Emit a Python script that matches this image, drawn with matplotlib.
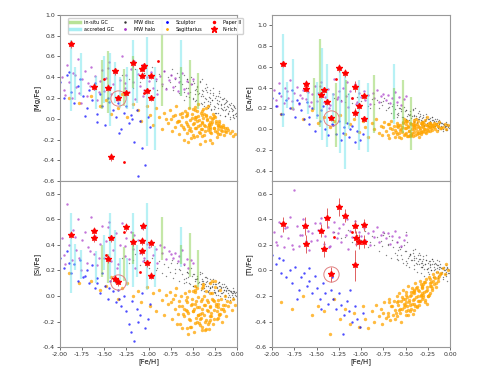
import matplotlib
matplotlib.use('Agg')
import matplotlib.pyplot as plt
from matplotlib.lines import Line2D

# ---------------- data ----------------
# MW disc
disc_feh = [-1.30, -1.22, -1.15, -1.10, -1.05, -1.00, -0.96, -0.92, -0.88, -0.85,
            -0.82, -0.80, -0.78, -0.76, -0.74, -0.72, -0.70, -0.68, -0.66, -0.64,
            -0.62, -0.60, -0.58, -0.56, -0.55, -0.53, -0.52, -0.50, -0.49, -0.47,
            -0.46, -0.45, -0.43, -0.42, -0.41, -0.40, -0.38, -0.37, -0.36, -0.35,
            -0.34, -0.33, -0.32, -0.31, -0.30, -0.29, -0.28, -0.27, -0.26, -0.25,
            -0.24, -0.23, -0.22, -0.21, -0.20, -0.19, -0.18, -0.17, -0.16, -0.15,
            -0.14, -0.13, -0.12, -0.11, -0.10, -0.09, -0.08, -0.07, -0.06, -0.05,
            -0.04, -0.03, -0.02, -0.01, -0.70, -0.60, -0.50, -0.40, -0.30, -0.20,
            -0.65, -0.55, -0.45, -0.35, -0.25, -0.15, -0.10, -0.05, -0.90, -0.75,
            -0.58, -0.48, -0.39, -0.33, -0.27, -0.18, -0.12, -0.08, -0.03, -1.18,
            -0.60, -0.57, -0.54, -0.51, -0.48, -0.46, -0.44, -0.42, -0.40, -0.38,
            -0.36, -0.34, -0.32, -0.30, -0.28, -0.26, -0.24, -0.22, -0.20, -0.18,
            -0.16, -0.14, -0.12, -0.10, -0.08, -0.06, -0.04, -0.02, -0.01, -0.03,
            -0.05, -0.07, -0.09, -0.11, -0.13, -0.15, -0.17, -0.19, -0.21, -0.23,
            -0.25, -0.27, -0.29, -0.31, -0.33, -0.35, -0.37, -0.41, -0.45, -0.50]
disc_mg = [0.42, 0.38, 0.48, 0.35, 0.44, 0.40, 0.50, 0.36, 0.43, 0.32,
           0.46, 0.30, 0.40, 0.35, 0.48, 0.28, 0.38, 0.44, 0.25, 0.36,
           0.33, 0.42, 0.22, 0.38, 0.30, 0.26, 0.40, 0.20, 0.34, 0.28,
           0.18, 0.32, 0.25, 0.36, 0.15, 0.28, 0.22, 0.12, 0.30, 0.19,
           0.26, 0.10, 0.21, 0.16, 0.28, 0.08, 0.18, 0.23, 0.12, 0.20,
           0.06, 0.15, 0.22, 0.10, 0.17, 0.04, 0.13, 0.19, 0.08, 0.11,
           0.15, 0.03, 0.09, 0.12, 0.06, 0.14, 0.02, 0.10, 0.07, 0.04,
           0.08, 0.01, 0.05, 0.03, 0.32, 0.18, 0.36, 0.24, 0.14, 0.25,
           0.40, 0.35, 0.27, 0.33, 0.06, 0.20, 0.11, 0.13, 0.28, 0.42,
           0.30, 0.24, 0.38, 0.17, 0.30, 0.14, 0.18, 0.00, 0.11, 0.30,
           0.26, 0.38, 0.21, 0.33, 0.17, 0.29, 0.24, 0.35, 0.14, 0.27,
           0.20, 0.31, 0.12, 0.25, 0.18, 0.09, 0.22, 0.14, 0.27, 0.10,
           0.19, 0.08, 0.16, 0.05, 0.13, 0.09, 0.04, 0.10, 0.06, 0.12,
           0.02, 0.15, 0.07, 0.17, 0.03, 0.14, 0.09, 0.21, 0.06, 0.18,
           0.11, 0.25, 0.09, 0.20, 0.13, 0.28, 0.16, 0.22, 0.31, 0.19]
disc_ca = [0.30, 0.28, 0.34, 0.25, 0.31, 0.27, 0.33, 0.22, 0.29, 0.24,
           0.28, 0.20, 0.26, 0.23, 0.30, 0.18, 0.25, 0.21, 0.16, 0.24,
           0.19, 0.23, 0.14, 0.20, 0.17, 0.12, 0.21, 0.10, 0.18, 0.15,
           0.09, 0.17, 0.13, 0.19, 0.08, 0.14, 0.11, 0.06, 0.16, 0.10,
           0.13, 0.05, 0.11, 0.08, 0.14, 0.04, 0.09, 0.12, 0.06, 0.10,
           0.03, 0.08, 0.11, 0.05, 0.09, 0.02, 0.07, 0.10, 0.04, 0.06,
           0.08, 0.01, 0.05, 0.07, 0.03, 0.06, 0.00, 0.04, 0.02, 0.05,
           0.03, -0.01, 0.02, 0.04, 0.20, 0.12, 0.18, 0.13, 0.07, 0.12,
           0.22, 0.19, 0.14, 0.17, 0.03, 0.10, 0.06, 0.07, 0.20, 0.27,
           0.16, 0.13, 0.20, 0.09, 0.15, 0.08, 0.09, -0.02, 0.05, 0.26,
           0.15, 0.20, 0.12, 0.17, 0.09, 0.14, 0.11, 0.18, 0.07, 0.13,
           0.10, 0.15, 0.06, 0.12, 0.08, 0.04, 0.10, 0.06, 0.12, 0.03,
           0.08, 0.02, 0.06, 0.00, 0.05, 0.03, -0.01, 0.03, 0.01, 0.04,
           0.00, 0.05, 0.02, 0.07, -0.01, 0.06, 0.03, 0.09, 0.02, 0.07,
           0.04, 0.10, 0.03, 0.08, 0.05, 0.12, 0.07, 0.10, 0.15, 0.09]
disc_si = [0.30, 0.26, 0.33, 0.24, 0.28, 0.22, 0.30, 0.20, 0.27, 0.18,
           0.25, 0.16, 0.23, 0.19, 0.28, 0.14, 0.21, 0.26, 0.12, 0.20,
           0.17, 0.24, 0.11, 0.19, 0.15, 0.09, 0.22, 0.08, 0.17, 0.13,
           0.07, 0.16, 0.11, 0.19, 0.05, 0.13, 0.10, 0.04, 0.15, 0.08,
           0.12, 0.03, 0.10, 0.06, 0.13, 0.02, 0.08, 0.11, 0.05, 0.09,
           0.01, 0.07, 0.10, 0.04, 0.08, 0.00, 0.06, 0.09, 0.03, 0.05,
           0.07, 0.00, 0.04, 0.06, 0.02, 0.05, -0.01, 0.03, 0.01, 0.04,
           0.02, -0.02, 0.01, 0.03, 0.18, 0.10, 0.17, 0.12, 0.06, 0.11,
           0.21, 0.18, 0.13, 0.15, 0.02, 0.09, 0.05, 0.06, 0.22, 0.26,
           0.14, 0.12, 0.18, 0.08, 0.13, 0.07, 0.08, -0.03, 0.04, 0.28,
           0.13, 0.19, 0.10, 0.16, 0.08, 0.13, 0.10, 0.17, 0.06, 0.12,
           0.09, 0.14, 0.05, 0.11, 0.07, 0.03, 0.09, 0.05, 0.11, 0.02,
           0.07, 0.01, 0.05, -0.01, 0.04, 0.02, -0.02, 0.02, 0.00, 0.03,
           -0.01, 0.04, 0.01, 0.06, -0.02, 0.05, 0.02, 0.08, 0.01, 0.06,
           0.03, 0.09, 0.02, 0.07, 0.04, 0.11, 0.06, 0.09, 0.14, 0.08]
disc_ti = [0.30, 0.25, 0.32, 0.22, 0.28, 0.24, 0.31, 0.18, 0.27, 0.20,
           0.26, 0.15, 0.23, 0.19, 0.29, 0.12, 0.21, 0.27, 0.10, 0.18,
           0.14, 0.22, 0.08, 0.17, 0.12, 0.06, 0.20, 0.04, 0.15, 0.10,
           0.03, 0.13, 0.08, 0.16, 0.01, 0.10, 0.06, -0.01, 0.12, 0.05,
           0.09, -0.02, 0.07, 0.03, 0.11, -0.04, 0.05, 0.08, 0.01, 0.06,
           -0.03, 0.04, 0.07, 0.00, 0.05, -0.05, 0.03, 0.06, -0.01, 0.02,
           0.04, -0.06, 0.01, 0.03, -0.02, 0.02, -0.07, 0.00, -0.03, 0.01,
           -0.01, -0.08, -0.02, 0.00, 0.20, 0.09, 0.30, 0.11, 0.04, 0.09,
           0.24, 0.18, 0.13, 0.14, -0.01, 0.08, 0.02, 0.04, 0.22, 0.28,
           0.16, 0.22, 0.17, 0.06, 0.12, 0.05, 0.07, -0.05, 0.03, 0.26,
           0.12, 0.18, 0.09, 0.15, 0.06, 0.11, 0.08, 0.14, 0.04, 0.10,
           0.07, 0.12, 0.03, 0.09, 0.05, 0.01, 0.07, 0.03, 0.09, 0.00,
           0.05, -0.01, 0.03, -0.03, 0.02, 0.00, -0.04, 0.01, -0.02, 0.02,
           -0.03, 0.03, -0.01, 0.05, -0.04, 0.04, 0.01, 0.07, 0.00, 0.05,
           0.02, 0.08, 0.01, 0.06, 0.03, 0.09, 0.05, 0.08, 0.12, 0.07]

# MW halo
halo_feh = [-1.98, -1.95, -1.92, -1.90, -1.87, -1.85, -1.82, -1.80, -1.78, -1.75,
            -1.72, -1.70, -1.68, -1.65, -1.62, -1.60, -1.58, -1.55, -1.52, -1.50,
            -1.48, -1.45, -1.42, -1.40, -1.37, -1.35, -1.32, -1.30, -1.27, -1.25,
            -1.22, -1.20, -1.17, -1.15, -1.12, -1.10, -1.07, -1.05, -1.02, -1.00,
            -0.97, -0.95, -0.92, -0.90, -0.87, -0.85, -0.82, -0.80, -0.77, -0.75,
            -0.72, -0.70, -0.67, -0.65, -0.62, -0.60, -0.57, -0.55, -0.52, -0.50,
            -1.94, -1.83, -1.76, -1.66, -1.56, -1.46, -1.36, -1.26, -1.16, -1.06]
halo_mg = [0.40, 0.28, 0.52, 0.35, 0.20, 0.44, 0.31, 0.58, 0.25, 0.38,
           0.46, 0.22, 0.34, 0.50, 0.29, 0.41, 0.18, 0.36, 0.47, 0.27,
           0.39, 0.55, 0.24, 0.33, 0.45, 0.21, 0.37, 0.60, 0.30, 0.42,
           0.26, 0.48, 0.35, 0.19, 0.43, 0.32, 0.52, 0.28, 0.40, 0.36,
           0.45, 0.30, 0.38, 0.24, 0.41, 0.33, 0.46, 0.29, 0.37, 0.42,
           0.31, 0.39, 0.27, 0.35, 0.44, 0.29, 0.36, 0.25, 0.33, 0.38,
           0.23, 0.42, 0.15, 0.32, 0.26, 0.49, 0.18, 0.34, 0.56, 0.22]
halo_ca = [0.38, 0.28, 0.44, 0.32, 0.25, 0.40, 0.30, 0.47, 0.27, 0.35,
           0.41, 0.24, 0.33, 0.38, 0.29, 0.36, 0.22, 0.34, 0.42, 0.27,
           0.35, 0.45, 0.26, 0.31, 0.39, 0.23, 0.34, 0.48, 0.29, 0.37,
           0.27, 0.40, 0.32, 0.21, 0.37, 0.30, 0.43, 0.26, 0.35, 0.31,
           0.37, 0.28, 0.33, 0.24, 0.35, 0.30, 0.38, 0.26, 0.32, 0.34,
           0.28, 0.33, 0.25, 0.30, 0.36, 0.26, 0.31, 0.23, 0.29, 0.32,
           0.22, 0.37, 0.19, 0.30, 0.26, 0.42, 0.20, 0.31, 0.45, 0.24]
halo_si = [0.45, 0.32, 0.72, 0.40, 0.28, 0.52, 0.36, 0.60, 0.30, 0.44,
           0.50, 0.26, 0.38, 0.62, 0.33, 0.47, 0.24, 0.41, 0.55, 0.30,
           0.43, 0.58, 0.27, 0.36, 0.49, 0.25, 0.40, 0.57, 0.31, 0.45,
           0.29, 0.50, 0.37, 0.22, 0.44, 0.34, 0.53, 0.30, 0.41, 0.38,
           0.42, 0.32, 0.37, 0.26, 0.40, 0.34, 0.38, 0.29, 0.35, 0.33,
           0.30, 0.34, 0.27, 0.31, 0.36, 0.25, 0.29, 0.22, 0.28, 0.26,
           0.25, 0.46, 0.20, 0.35, 0.30, 0.54, 0.22, 0.39, 0.48, 0.27]
halo_ti = [0.30, 0.22, 0.38, 0.27, 0.18, 0.33, 0.25, 0.42, 0.20, 0.63,
           0.35, 0.19, 0.28, 0.40, 0.23, 0.31, 0.16, 0.29, 0.37, 0.24,
           0.32, 0.41, 0.21, 0.27, 0.34, 0.19, 0.30, 0.38, 0.25, 0.33,
           0.22, 0.36, 0.28, 0.17, 0.31, 0.26, 0.39, 0.23, 0.30, 0.27,
           0.33, 0.24, 0.29, 0.20, 0.31, 0.26, 0.34, 0.22, 0.28, 0.30,
           0.25, 0.29, 0.21, 0.27, 0.31, 0.22, 0.26, 0.19, 0.24, 0.28,
           0.20, 0.34, 0.17, 0.28, 0.23, 0.37, 0.18, 0.29, 0.40, 0.21]

# Sculptor
scl_feh = [-2.00, -1.96, -1.92, -1.88, -1.84, -1.80, -1.77, -1.74, -1.70, -1.67,
           -1.64, -1.61, -1.58, -1.55, -1.52, -1.49, -1.46, -1.43, -1.40, -1.37,
           -1.34, -1.31, -1.28, -1.25, -1.22, -1.19, -1.16, -1.13, -1.10, -1.07,
           -1.04, -1.01, -0.98, -1.90, -1.72, -1.58, -1.45, -1.33, -1.20, -1.12]
scl_mg = [0.35, 0.20, 0.42, 0.26, 0.15, 0.32, 0.38, 0.22, 0.10, 0.28,
          0.18, 0.34, 0.05, 0.24, 0.12, -0.06, 0.20, 0.30, 0.08, 0.02,
          0.15, -0.10, 0.06, 0.12, -0.04, 0.00, -0.22, 0.08, -0.02, -0.28,
          -0.45, 0.02, -0.08, 0.45, 0.03, -0.03, 0.16, -0.14, 0.04, -0.55]
scl_ca = [0.30, 0.22, 0.35, 0.15, 0.28, 0.20, 0.38, 0.12, 0.25, 0.18,
          0.10, 0.26, 0.05, 0.20, -0.02, 0.14, 0.08, 0.22, 0.00, -0.06,
          0.12, 0.04, -0.05, 0.08, -0.10, 0.02, 0.06, -0.08, 0.03, -0.12,
          -0.02, -0.10, -0.05, 0.15, 0.28, 0.12, 0.18, 0.05, -0.04, 0.00]
scl_si = [0.30, 0.22, 0.35, 0.18, 0.25, 0.12, 0.28, 0.15, 0.20, 0.10,
          0.24, 0.06, 0.14, 0.02, 0.18, 0.08, -0.02, 0.12, 0.04, -0.05,
          0.05, -0.08, 0.00, -0.12, -0.22, -0.04, -0.35, -0.10, -0.15, 0.02,
          -0.25, -0.18, -0.06, 0.26, 0.16, 0.10, 0.06, -0.02, -0.28, -0.20]
scl_ti = [0.12, 0.05, 0.10, 0.08, -0.05, 0.00, -0.10, 0.03, -0.15, -0.05,
          -0.02, -0.12, -0.08, -0.18, -0.04, -0.14, -0.22, -0.10, -0.18, -0.26,
          -0.15, -0.22, -0.30, -0.18, -0.27, -0.35, -0.24, -0.32, -0.40, -0.28,
          -0.38, -0.44, -0.33, -0.02, -0.22, 0.02, -0.30, -0.05, -0.50, -0.15]

# Sagittarius
sgr_feh = [-1.90, -1.78, -1.65, -1.55, -1.48, -1.42, -1.35, -1.30, -1.24, -1.18,
           -1.12, -1.08, -1.02, -0.98, -0.95, -0.92, -0.88, -0.85, -0.83, -0.80,
           -0.78, -0.76, -0.74, -0.72, -0.70, -0.69, -0.67, -0.66, -0.64, -0.63,
           -0.62, -0.60, -0.59, -0.58, -0.57, -0.56, -0.55, -0.54, -0.53, -0.52,
           -0.51, -0.50, -0.49, -0.48, -0.47, -0.46, -0.45, -0.44, -0.43, -0.42,
           -0.41, -0.40, -0.39, -0.38, -0.37, -0.36, -0.35, -0.34, -0.33, -0.32,
           -0.31, -0.30, -0.29, -0.28, -0.27, -0.26, -0.25, -0.24, -0.23, -0.22,
           -0.21, -0.20, -0.19, -0.18, -0.17, -0.16, -0.15, -0.14, -0.12, -0.10,
           -0.08, -0.06, -0.04, -0.02, -0.60, -0.50, -0.45, -0.40, -0.35, -0.30,
           -0.55, -0.48, -0.42, -0.38, -0.33, -0.28, -0.52, -0.44, -0.36, -0.26,
           -0.65, -0.61, -0.58, -0.56, -0.54, -0.51, -0.49, -0.47, -0.46, -0.44,
           -0.43, -0.41, -0.40, -0.39, -0.37, -0.36, -0.34, -0.33, -0.31, -0.30,
           -0.29, -0.27, -0.26, -0.24, -0.23, -0.21, -0.20, -0.18, -0.16, -0.14,
           -0.70, -0.68, -0.57, -0.53, -0.47, -0.42, -0.37, -0.32, -0.28, -0.22,
           -0.75, -0.62, -0.50, -0.45, -0.40, -0.35, -0.31, -0.25, -0.19, -0.11]
sgr_mg = [0.20, 0.15, 0.22, 0.12, 0.18, 0.05, 0.10, 0.24, 0.02, 0.14,
          0.08, -0.02, 0.12, 0.04, -0.06, 0.10, 0.02, -0.10, 0.06, 0.00,
          -0.04, 0.08, -0.12, 0.03, -0.08, 0.12, -0.02, -0.15, 0.05, -0.06,
          0.02, -0.10, 0.07, -0.03, -0.14, 0.04, -0.07, 0.10, -0.01, -0.12,
          0.05, -0.05, -0.18, 0.00, 0.08, -0.09, -0.02, 0.03, -0.13, -0.06,
          0.06, -0.04, -0.10, 0.01, -0.16, -0.07, 0.04, -0.01, -0.11, -0.05,
          0.02, -0.08, -0.14, -0.03, 0.05, -0.09, -0.12, -0.02, -0.18, -0.06,
          -0.10, -0.04, -0.15, -0.08, -0.12, -0.06, -0.16, -0.09, -0.13, -0.11,
          -0.14, -0.12, -0.17, -0.15, -0.20, 0.09, -0.17, 0.07, 0.10, -0.20,
          -0.22, 0.11, -0.24, 0.09, 0.12, -0.23, -0.19, 0.14, -0.21, 0.03,
          -0.02, -0.08, 0.03, -0.05, -0.11, 0.01, -0.04, -0.09, 0.02, -0.07,
          -0.01, -0.10, -0.03, 0.04, -0.06, -0.12, 0.00, -0.08, -0.03, -0.10,
          -0.05, 0.01, -0.09, -0.04, -0.13, -0.07, -0.02, -0.11, -0.08, -0.12,
          0.04, -0.03, 0.06, -0.09, 0.02, -0.14, 0.05, -0.06, 0.00, -0.15,
          0.00, 0.06, -0.16, 0.07, -0.17, 0.03, -0.13, 0.02, -0.07, -0.09]
sgr_ca = [0.15, 0.20, 0.10, 0.18, 0.06, 0.12, 0.02, 0.08, 0.14, -0.05,
          0.05, 0.10, -0.03, 0.08, 0.02, -0.08, 0.06, 0.00, 0.10, -0.04,
          0.03, -0.06, 0.07, -0.02, 0.05, -0.09, 0.01, 0.08, -0.04, 0.03,
          -0.01, 0.06, -0.05, 0.02, -0.08, 0.04, 0.00, -0.03, 0.07, -0.06,
          0.01, -0.04, 0.05, -0.07, 0.02, -0.02, 0.06, -0.05, 0.00, 0.03,
          -0.03, 0.04, -0.06, 0.01, 0.05, -0.04, 0.02, -0.01, 0.06, -0.03,
          0.03, -0.02, 0.05, 0.00, -0.04, 0.04, 0.01, 0.06, -0.02, 0.02,
          0.04, -0.01, 0.03, 0.06, 0.00, 0.05, -0.02, 0.03, 0.07, 0.01,
          0.02, 0.05, 0.00, 0.04, 0.03, 0.08, -0.07, 0.09, -0.08, 0.07,
          -0.09, 0.08, -0.07, 0.10, -0.05, 0.09, 0.10, -0.06, 0.08, 0.12,
          0.00, -0.03, 0.04, -0.01, 0.02, -0.05, 0.01, 0.03, -0.02, 0.05,
          -0.04, 0.02, 0.00, 0.04, -0.02, 0.03, 0.01, -0.03, 0.05, 0.02,
          0.00, 0.04, -0.01, 0.03, 0.06, 0.01, 0.04, 0.02, 0.05, 0.03,
          -0.06, 0.05, -0.04, 0.06, -0.07, 0.05, -0.05, 0.07, -0.03, 0.06,
          0.02, -0.08, 0.08, -0.06, 0.07, -0.04, 0.06, -0.02, 0.04, 0.01]
sgr_si = [0.18, 0.10, 0.12, 0.05, 0.08, 0.15, -0.02, 0.06, 0.10, 0.00,
          0.04, -0.05, 0.07, -0.08, 0.02, -0.12, 0.05, -0.03, -0.15, 0.01,
          -0.06, 0.03, -0.18, -0.02, -0.10, 0.06, -0.14, -0.04, -0.22, 0.00,
          -0.08, -0.16, 0.02, -0.11, -0.25, -0.05, -0.13, 0.04, -0.19, -0.07,
          -0.02, -0.12, -0.28, -0.06, 0.05, -0.17, -0.09, -0.01, -0.21, -0.14,
          -0.04, -0.10, -0.24, 0.08, -0.15, -0.07, -0.19, -0.03, -0.12, -0.26,
          0.10, -0.08, -0.16, -0.02, -0.22, -0.11, 0.12, -0.06, -0.18, -0.09,
          -0.03, -0.14, 0.05, -0.10, -0.20, -0.07, -0.12, 0.00, -0.16, -0.08,
          -0.05, -0.11, -0.02, -0.07, -0.10, 0.04, -0.20, 0.06, -0.26, 0.02,
          -0.30, 0.08, -0.18, 0.09, -0.22, 0.12, -0.24, -0.15, -0.27, -0.04,
          -0.08, -0.14, -0.03, -0.12, -0.18, -0.06, -0.10, -0.21, -0.04, -0.15,
          -0.09, -0.17, -0.02, -0.13, -0.07, -0.20, -0.11, -0.05, -0.16, -0.09,
          -0.13, -0.03, -0.18, -0.08, -0.12, -0.06, -0.15, -0.02, -0.10, -0.07,
          0.01, -0.22, -0.01, -0.24, 0.03, -0.23, 0.00, -0.20, 0.02, -0.17,
          -0.05, -0.25, -0.12, 0.06, -0.27, 0.04, -0.19, 0.07, -0.14, -0.04]
sgr_ti = [-0.25, -0.30, -0.20, -0.35, -0.28, -0.32, -0.50, -0.22, -0.38, -0.30,
          -0.42, -0.33, -0.44, -0.28, -0.38, -0.45, -0.32, -0.40, -0.27, -0.36,
          -0.30, -0.42, -0.25, -0.37, -0.33, -0.22, -0.39, -0.28, -0.35, -0.24,
          -0.31, -0.20, -0.36, -0.27, -0.18, -0.33, -0.24, -0.30, -0.15, -0.26,
          -0.22, -0.32, -0.17, -0.28, -0.12, -0.25, -0.20, -0.30, -0.14, -0.23,
          -0.18, -0.26, -0.10, -0.21, -0.28, -0.15, -0.24, -0.08, -0.19, -0.13,
          -0.22, -0.11, -0.17, -0.25, -0.07, -0.15, -0.20, -0.05, -0.12, -0.18,
          -0.09, -0.14, -0.03, -0.11, -0.06, -0.13, -0.01, -0.08, -0.04, -0.02,
          0.02, -0.03, 0.05, 0.00, -0.25, -0.35, -0.27, -0.31, -0.16, -0.19,
          -0.40, -0.21, -0.34, -0.14, -0.20, -0.09, -0.29, -0.19, -0.24, -0.26,
          -0.28, -0.33, -0.24, -0.30, -0.21, -0.27, -0.19, -0.31, -0.23, -0.17,
          -0.26, -0.15, -0.22, -0.28, -0.13, -0.20, -0.24, -0.11, -0.18, -0.21,
          -0.09, -0.16, -0.13, -0.19, -0.07, -0.12, -0.15, -0.05, -0.10, -0.06,
          -0.36, -0.25, -0.31, -0.22, -0.35, -0.17, -0.29, -0.14, -0.23, -0.10,
          -0.33, -0.38, -0.25, -0.32, -0.16, -0.27, -0.12, -0.20, -0.08, -0.03]

# globular clusters: [Fe/H], origin, spread (low, high) per element
gc_feh = [-1.88, -1.83, -1.76, -1.59, -1.53, -1.50, -1.46, -1.44, -1.38, -1.32, -1.28,
          -1.24, -1.18, -1.17, -1.13, -1.02, -0.925, -0.85, -0.63, -0.63, -0.53, -0.44]
gc_insitu = [False, False, False, False, True, False, True, False, False, False, True,
             False, False, True, False, False, False, True, False, True, True, True]
gc_mg_lo = [0.07, 0.18, 0.22, 0.09, 0.09, 0.15, 0.06, -0.07, 0.15, 0.10, 0.12,
            0.09, 0.09, 0.30, 0.15, -0.26, -0.30, 0.12, 0.22, 0.22, 0.09, 0.09]
gc_mg_hi = [0.76, 0.50, 0.63, 0.41, 0.57, 0.60, 0.65, 0.63, 0.55, 0.40, 0.48,
            0.50, 0.76, 0.60, 0.48, 0.79, 0.50, 0.95, 0.76, 0.50, 0.57, 0.44]
gc_ca_lo = [0.02, 0.20, 0.18, 0.15, 0.18, 0.10, 0.02, -0.10, -0.17, 0.05, -0.17,
            -0.23, -0.38, 0.05, 0.00, -0.20, -0.22, -0.04, 0.05, 0.10, -0.04, -0.20]
gc_ca_hi = [0.92, 0.45, 0.68, 0.40, 0.49, 0.45, 0.87, 0.78, 0.63, 0.35, 0.44,
            0.60, 0.54, 0.47, 0.35, 0.47, 0.44, 0.52, 0.63, 0.40, 0.47, 0.31]
gc_si_lo = [0.02, 0.20, 0.13, 0.10, 0.15, 0.20, 0.10, 0.13, 0.10, 0.10, 0.12,
            0.08, 0.07, 0.25, 0.15, 0.05, 0.07, 0.28, 0.23, 0.25, 0.15, 0.07]
gc_si_hi = [0.65, 0.41, 0.36, 0.35, 0.40, 0.48, 0.33, 0.65, 0.52, 0.30, 0.38,
            0.30, 0.65, 0.50, 0.40, 0.73, 0.39, 0.62, 0.54, 0.40, 0.49, 0.36]

# N-rich stars (per panel)
nr_mg_feh = [-1.88, -1.62, -1.455, -1.38, -1.34, -1.25, -1.18, -1.07, -1.055, -1.07, -1.02, -0.97, -0.97, -1.425]
nr_mg = [0.72, 0.31, 0.30, 0.456, 0.197, 0.245, 0.54, 0.48, 0.51, 0.41, 0.27, 0.41, 0.20, -0.37]
nr_mg_err = [0.04, 0.03, 0.03, 0.03, 0.03, 0.03, 0.04, 0.03, 0.03, 0.03, 0.03, 0.03, 0.03, 0.04]
nr_ca_feh = [-1.88, -1.62, -1.62, -1.45, -1.42, -1.38, -1.335, -1.25, -1.175, -1.065, -1.02, -1.065, -0.97, -0.97]
nr_ca = [0.63, 0.43, 0.385, 0.33, 0.375, 0.26, 0.11, 0.59, 0.54, 0.41, 0.22, 0.16, 0.32, 0.10]
nr_ca_err = [0.03, 0.04, 0.03, 0.03, 0.03, 0.03, 0.03, 0.04, 0.04, 0.05, 0.03, 0.04, 0.03, 0.03]
nr_si_feh = [-1.88, -1.62, -1.62, -1.455, -1.42, -1.38, -1.34, -1.25, -1.18, -1.07, -1.06, -1.07, -1.02, -0.97, -0.975]
nr_si = [0.48, 0.51, 0.45, 0.29, 0.45, 0.135, 0.11, 0.54, 0.42, 0.43, 0.55, 0.35, 0.255, 0.415, 0.16]
nr_si_err = [0.03, 0.03, 0.03, 0.03, 0.03, 0.03, 0.03, 0.03, 0.03, 0.03, 0.03, 0.03, 0.03, 0.03, 0.03]
nr_ti_feh = [-1.88, -1.625, -1.62, -1.45, -1.42, -1.38, -1.335, -1.25, -1.175, -1.065, -1.06, -1.02, -0.97, -0.97, -1.065]
nr_ti = [0.36, 0.35, 0.21, 0.31, 0.167, 0.41, -0.03, 0.50, 0.43, 0.345, 0.25, 0.225, 0.355, 0.225, 0.04]
nr_ti_err = [0.06, 0.07, 0.07, 0.05, 0.06, 0.08, 0.06, 0.07, 0.05, 0.05, 0.06, 0.06, 0.05, 0.05, 0.12]

# Paper II stars
p2_mg_feh = [-0.89, -1.28, -1.50, -1.05]
p2_mg = [0.56, -0.42, 0.38, 0.25]
p2_ca_feh = [-1.28, -1.10]
p2_ca = [0.48, 0.30]
p2_si_feh = [-1.28, -1.10, -1.48]
p2_si = [0.50, 0.19, 0.32]
p2_ti_feh = [-1.10, -1.30]
p2_ti = [0.30, 0.26]

# circled star per panel
circ_feh = [-1.34, -1.335, -1.34, -1.335]
circ_val = [0.197, 0.11, 0.11, -0.03]

labels = ['[Mg/Fe]', '[Ca/Fe]', '[Si/Fe]', '[Ti/Fe]']
ylims = [(-0.6, 1.0), (-0.5, 1.1), (-0.4, 0.9), (-0.6, 0.7)]
yticks = [[-0.6, -0.4, -0.2, 0.0, 0.2, 0.4, 0.6, 0.8, 1.0],
          [-0.4, -0.2, 0.0, 0.2, 0.4, 0.6, 0.8, 1.0],
          [-0.4, -0.2, 0.0, 0.2, 0.4, 0.6, 0.8],
          [-0.6, -0.4, -0.2, 0.0, 0.2, 0.4, 0.6]]
xticks = [-2.0, -1.75, -1.5, -1.25, -1.0, -0.75, -0.5, -0.25, 0.0]

disc_y = [disc_mg, disc_ca, disc_si, disc_ti]
halo_y = [halo_mg, halo_ca, halo_si, halo_ti]
scl_y = [scl_mg, scl_ca, scl_si, scl_ti]
sgr_y = [sgr_mg, sgr_ca, sgr_si, sgr_ti]
gc_lo = [gc_mg_lo, gc_ca_lo, gc_si_lo, None]
gc_hi = [gc_mg_hi, gc_ca_hi, gc_si_hi, None]
nr_x = [nr_mg_feh, nr_ca_feh, nr_si_feh, nr_ti_feh]
nr_y = [nr_mg, nr_ca, nr_si, nr_ti]
nr_e = [nr_mg_err, nr_ca_err, nr_si_err, nr_ti_err]
p2_x = [p2_mg_feh, p2_ca_feh, p2_si_feh, p2_ti_feh]
p2_y = [p2_mg, p2_ca, p2_si, p2_ti]

C_INSITU = '#8ad050'
C_ACC = '#70e4ec'
C_HALO = '#a838c8'

fig = plt.figure(figsize=(5.0, 3.74), dpi=100)
positions = [[0.12, 0.516, 0.354, 0.444], [0.544, 0.516, 0.356, 0.444],
             [0.12, 0.072, 0.354, 0.444], [0.544, 0.072, 0.356, 0.444]]

for i in range(4):
    ax = fig.add_axes(positions[i])
    ax.scatter(disc_feh, disc_y[i], s=1.0, c='#303030', alpha=0.6, lw=0)
    ax.scatter(sgr_feh, sgr_y[i], s=6, c='orange', alpha=0.75, lw=0)
    ax.scatter(halo_feh, halo_y[i], s=3, c=C_HALO, alpha=0.7, lw=0)
    ax.scatter(scl_feh, scl_y[i], s=3, c='blue', alpha=0.7, lw=0)
    if gc_lo[i] is not None:
        for f, ins, lo, hi in zip(gc_feh, gc_insitu, gc_lo[i], gc_hi[i]):
            ax.vlines(f, lo, hi, colors=C_INSITU if ins else C_ACC,
                      lw=1.6, alpha=0.5)
    ax.scatter(p2_x[i], p2_y[i], s=4, c='red', lw=0, zorder=4)
    ax.errorbar(nr_x[i], nr_y[i], yerr=nr_e[i], fmt='*', color='red', ms=4.2,
                ecolor='#e06060', elinewidth=0.7, capsize=0, zorder=5)
    ax.plot(circ_feh[i], circ_val[i], 'o', ms=11, mfc='none', mec='#e08080',
            mew=0.7, zorder=5)

    ax.set_xlim(-2.0, 0.0)
    ax.set_ylim(*ylims[i])
    ax.set_yticks(yticks[i])
    ax.set_yticklabels(['%.1f' % v for v in yticks[i]])
    ax.set_xticks(xticks)
    if i >= 2:
        ax.set_xticklabels(['%.2f' % v for v in xticks])
        ax.set_xlabel('[Fe/H]', fontsize=5, labelpad=1)
    else:
        ax.set_xticklabels([])
    ax.set_ylabel(labels[i], fontsize=5, labelpad=2)
    ax.tick_params(labelsize=4.5, length=2, width=0.5, pad=1.5, colors='#333333')
    for sp in ax.spines.values():
        sp.set_color('#999999')
        sp.set_linewidth(0.8)

    if i == 0:
        handles = [
            Line2D([], [], color=C_INSITU, lw=2.5, alpha=0.6),
            Line2D([], [], color=C_ACC, lw=2.5, alpha=0.6),
            Line2D([], [], ls='', marker='.', ms=1.5, color='#303030'),
            Line2D([], [], ls='', marker='.', ms=2, color=C_HALO),
            Line2D([], [], ls='', marker='.', ms=2, color='blue'),
            Line2D([], [], ls='', marker='.', ms=2, color='orange'),
            Line2D([], [], ls='', marker='.', ms=3, color='red'),
            Line2D([], [], ls='', marker='*', ms=5, color='red'),
        ]
        names = ['in-situ GC', 'accreted GC', 'MW disc', 'MW halo',
                 'Sculptor', 'Sagittarius', 'Paper II', 'N-rich']
        ax.legend(handles, names, loc='upper center', ncol=4, fontsize=3.5,
                  frameon=True, framealpha=0.9, edgecolor='#cccccc',
                  handlelength=2.0, columnspacing=1.4, borderpad=0.4,
                  labelspacing=0.3, bbox_to_anchor=(0.54, 0.995))

fig.savefig('out.png', dpi=100)
